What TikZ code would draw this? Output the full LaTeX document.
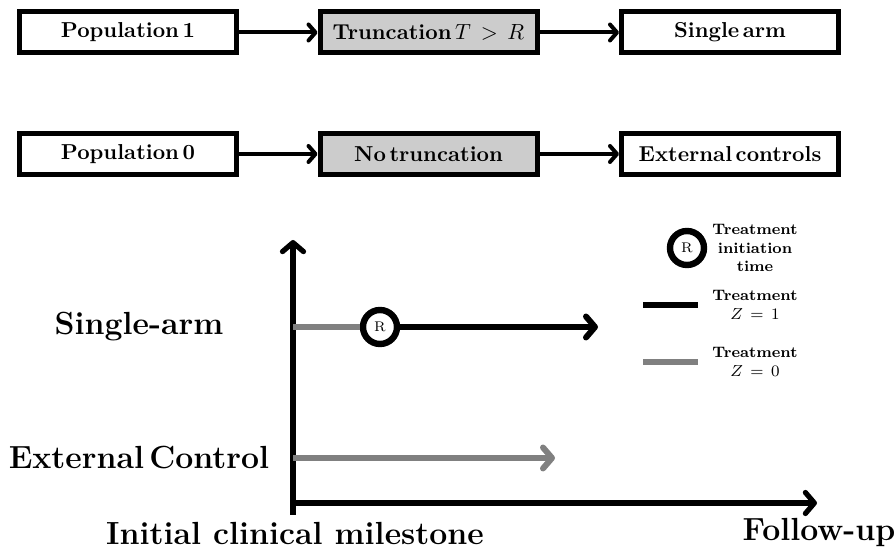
\documentclass[tikz,border=0pt]{standalone}
\usetikzlibrary{arrows,arrows.meta}

\tikzset{
  stagebox/.style = {draw, line width = 2.5pt, minimum width = 108.5pt, minimum height = 20.5pt,
                     inner sep = 0pt, font = \fontsize{10.8}{13}\selectfont\bfseries},
  flow/.style = {-{Straight Barb[round, length = 3.5pt, width = 8pt]}, line width = 2pt},
  zone/.style = {line width = 3pt},
  zonetip/.style = {-{Straight Barb[round, length = 4.5pt, width = 10.5pt]}},
  rmark/.style = {circle, draw, line width = 3.2pt, minimum size = 17pt, inner sep = 0pt,
                  font = \fontsize{7}{8}\selectfont},
  legtext/.style = {align = center, font = \fontsize{7.6}{9.3}\selectfont\bfseries},
  bigtext/.style = {font = \fontsize{16}{19}\selectfont\bfseries}
}

\begin{document}
\begin{tikzpicture}[x = 0.5pt, y = -0.5pt]
\useasboundingbox (0,0) rectangle (896,550);
% top flow
\node [stagebox] (pop1) at (128,32.5) {Population\,1};
\node [stagebox, fill = gray!40] (trunc) at (428.5,32.5) {Truncation\,$T\,>\,R$};
\node [stagebox] (single) at (730,32.5) {Single\,arm};
\node [stagebox] (pop0) at (128,154) {Population\,0};
\node [stagebox, fill = gray!40] (notrunc) at (428.5,154) {No\,truncation};
\node [stagebox] (ext) at (730,154) {External\,controls};
\draw [flow] (pop1) -- (trunc);
\draw [flow] (trunc) -- (single);
\draw [flow] (pop0) -- (notrunc);
\draw [flow] (notrunc) -- (ext);
% axes
\coordinate (O) at (293,503);
\coordinate (ytop) at (293,240);
\coordinate (xend) at (817,503);
\draw [zonetip, line width = 2.6pt] (293,515) -- (ytop);
\draw [zonetip, line width = 2.6pt] (O) -- (xend);
\node [bigtext] (sa) at (139,327) {Single-arm};
\node [bigtext] (ec) at (139,458) {External\,Control};
\node [bigtext] (icm) at (295,533) {Initial clinical milestone};
\node [bigtext] (fu) at (819,533) {Follow-up};
% timelines
\node [rmark] (R) at (380,327) {R};
\coordinate (saend) at (598,327);
\coordinate (sastart) at (293,327);
\draw [zone, gray] (sastart) -- (R);
\draw [zonetip, zone] (R) -- (saend);
\coordinate (ecstart) at (293,458);
\coordinate (ecend) at (555,458);
\draw [zonetip, zone, gray] (ecstart) -- (ecend);
% legend
\node [rmark] (Rleg) at (687,248) {R};
\node [legtext] (legR) at (755,248) {Treatment\\initiation\\time};
\coordinate (blackA) at (643,305);
\coordinate (blackB) at (698,305);
\draw [zone] (blackA) -- (blackB);
\node [legtext] (legone) at (755,305) {Treatment\\$Z\,=\,1$};
\coordinate (grayA) at (643,362);
\coordinate (grayB) at (698,362);
\draw [zone, gray] (grayA) -- (grayB);
\node [legtext] (legzero) at (755,362) {Treatment\\$Z\,=\,0$};
\end{tikzpicture}
\end{document}
